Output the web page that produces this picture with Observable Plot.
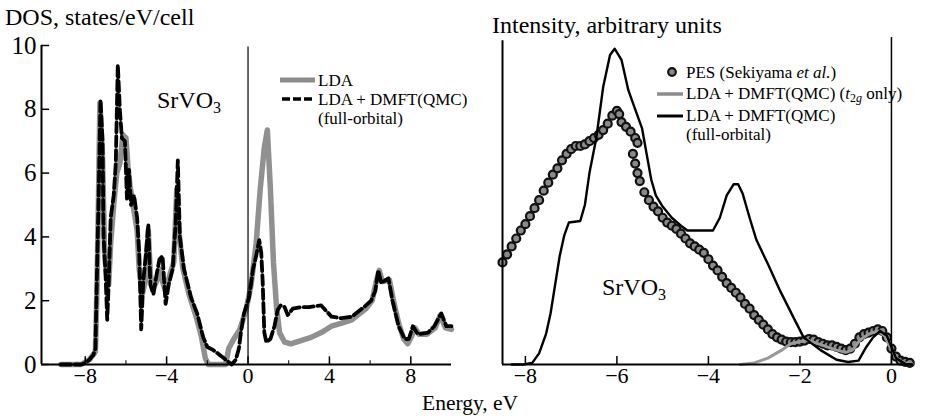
<!DOCTYPE html>
<html><head><meta charset="utf-8">
<script src="https://cdn.jsdelivr.net/npm/d3@7"></script>
<script src="https://cdn.jsdelivr.net/npm/@observablehq/plot@0.6"></script>
<style>
body{margin:0;background:#fff;}
#wrap{position:relative;width:927px;height:417px;overflow:hidden;font-family:'Liberation Serif','Times New Roman',serif;}
#left,#right{position:absolute;top:0;}
#left{left:0;} #right{left:470px;}
#overlay{position:absolute;left:0;top:0;pointer-events:none;font-family:'Liberation Serif','Times New Roman',serif;}
svg text{font-family:'Liberation Serif','Times New Roman',serif;}
</style></head><body>
<div id="wrap"><div id="left"></div><div id="right"></div>
<svg id="overlay" width="927" height="417" fill="#000">
  <text x="5" y="25" font-size="24">DOS, states/eV/cell</text>
  <text x="492" y="33" font-size="24">Intensity, arbitrary units</text>
  <text x="422" y="410" font-size="21.5">Energy, eV</text>
  <text x="157" y="108" font-size="24">SrVO<tspan dy="5" font-size="16">3</tspan></text>
  <text x="602" y="295" font-size="24">SrVO<tspan dy="5" font-size="16">3</tspan></text>
  <!-- left legend -->
  <line x1="280" x2="315" y1="80" y2="80" stroke="#8c8c8c" stroke-width="5"/>
  <text x="318" y="86" font-size="17">LDA</text>
  <line x1="282" x2="315" y1="99" y2="99" stroke="#000" stroke-width="3.5" stroke-dasharray="8,3"/>
  <text x="318" y="105" font-size="17">LDA + DMFT(QMC)</text>
  <text x="318" y="124" font-size="17">(full-orbital)</text>
  <!-- right legend -->
  <circle cx="672" cy="72" r="3.8" fill="#888" stroke="#111" stroke-width="2.2"/>
  <text x="686" y="78" font-size="17">PES (Sekiyama <tspan font-style="italic">et al.</tspan>)</text>
  <line x1="657" x2="683" y1="94" y2="94" stroke="#8c8c8c" stroke-width="3.5"/>
  <text x="686" y="99" font-size="17">LDA + DMFT(QMC) (<tspan font-style="italic">t</tspan><tspan dy="3" font-size="12">2<tspan font-style="italic">g</tspan></tspan><tspan dy="-3"> only)</tspan></text>
  <line x1="657" x2="683" y1="116" y2="116" stroke="#000" stroke-width="3"/>
  <text x="686" y="121" font-size="17">LDA + DMFT(QMC)</text>
  <text x="686" y="140" font-size="17">(full-orbital)</text>
</svg>
</div>
<script>
// ---------- Left panel: DOS ----------
const ldaEnergy = [-9.2,-8.2,-7.8,-7.5,-7.42,-7.35,-7.28,-7.15,-7.05,-6.95,-6.85,-6.75,-6.6,-6.45,-6.3,-6.15,-6.0,-5.9,-5.8,-5.6,-5.45,-5.35,-5.2,-5.05,-4.9,-4.8,-4.65,-4.5,-4.35,-4.2,-4.05,-3.85,-3.65,-3.5,-3.4,-3.2,-2.9,-2.55,-2.3,-2.1,-1.95,-1.1,-0.95,-0.7,-0.4,-0.1,0.15,0.4,0.6,0.8,0.95,1.1,1.25,1.4,1.55,1.8,2.1,2.6,3.1,3.6,4.1,4.6,5.1,5.5,5.8,6.1,6.3,6.45,6.6,6.95,7.15,7.4,7.65,7.85,8.05,8.2,8.4,8.8,9.2,9.45,9.7,10.0];
const ldaDos    = [0,0,0.15,0.4,2.5,5.2,8.2,6.5,3.5,2.8,2.5,3.8,5.0,6.0,6.3,7.2,7.1,6.2,5.6,4.8,4.2,3.0,2.2,2.6,4.2,2.8,2.4,2.6,3.0,2.6,2.3,2.8,3.2,5.5,4.2,3.0,2.2,1.5,0.9,0.2,0,0,0.5,0.8,1.1,1.7,2.5,3.8,5.5,6.8,7.35,5.5,3.2,1.8,1.0,0.7,0.65,0.75,0.85,1.0,1.2,1.3,1.4,1.6,1.75,2.0,2.6,2.95,2.6,2.65,2.0,1.3,0.8,0.65,0.9,1.15,0.95,0.95,1.15,1.55,1.15,1.1];

const dmftEnergy = [-9.2,-8.2,-8.0,-7.8,-7.6,-7.5,-7.42,-7.35,-7.25,-7.15,-7.1,-7.0,-6.92,-6.85,-6.75,-6.6,-6.5,-6.4,-6.3,-6.2,-6.05,-5.95,-5.85,-5.75,-5.6,-5.45,-5.35,-5.25,-5.15,-5.0,-4.9,-4.8,-4.65,-4.5,-4.35,-4.2,-4.05,-3.9,-3.7,-3.55,-3.45,-3.35,-3.15,-2.8,-2.5,-2.2,-2.0,-1.7,-1.2,-0.8,-0.6,-0.45,-0.35,-0.2,0.05,0.25,0.4,0.55,0.65,0.72,0.8,0.9,1.1,1.3,1.45,1.6,1.8,1.95,2.2,2.6,3.0,3.6,4.1,4.6,5.1,5.7,6.05,6.25,6.4,6.55,6.9,7.1,7.4,7.7,7.9,8.1,8.35,8.85,9.15,9.5,9.75,10.0];
const dmftDos    = [0,0,0.05,0.15,0.3,0.5,3.0,5.0,8.3,7.0,4.0,2.8,1.4,2.5,4.6,5.3,6.3,9.4,8.0,7.1,7.0,5.2,6.1,5.0,5.3,4.6,3.5,1.1,2.6,3.6,4.4,2.5,2.2,2.8,3.3,3.4,1.9,2.5,3.0,4.5,6.4,4.0,3.0,2.1,1.6,0.85,0.55,0.45,0.2,0,0.15,0.5,1.0,1.6,2.1,3.0,3.4,3.9,3.5,2.6,1.0,0.7,0.8,1.2,1.7,1.85,1.8,1.55,1.75,1.8,1.8,1.85,1.5,1.45,1.5,1.8,2.0,2.3,2.95,2.55,2.7,2.0,1.2,0.8,0.8,1.2,0.95,1.0,1.2,1.6,1.2,1.2];

const leftXTicks = [-8,-4,0,4,8];
const leftXMinor = [-6,-2,2,6];
const leftYTicks = [0,2,4,6,8,10];

// ---------- Right panel: spectra ----------
const pesEnergy = [-8.5,-8.4,-8.3,-8.2,-8.1,-8.0,-7.9,-7.8,-7.7,-7.6,-7.5,-7.4,-7.3,-7.2,-7.1,-7.0,-6.9,-6.8,-6.7,-6.6,-6.5,-6.4,-6.3,-6.2,-6.1,-6.0,-5.95,-5.9,-5.8,-5.7,-5.6,-5.55,
  -5.65,-5.6,-5.55,-5.5,-5.4,-5.3,-5.2,-5.1,-5.0,-4.9,-4.8,-4.7,-4.6,-4.5,-4.4,-4.3,-4.2,-4.1,-4.0,-3.9,-3.8,-3.7,-3.6,-3.5,-3.4,-3.3,-3.2,-3.1,-3.0,-2.9,-2.8,-2.7,-2.6,-2.5,-2.4,-2.3,-2.2,-2.1,-2.0,-1.9,-1.8,-1.7,-1.6,-1.5,-1.4,-1.3,-1.2,-1.1,-1.0,-0.9,-0.8,-0.7,-0.6,-0.5,-0.4,-0.3,-0.2,-0.1,0.0,0.1,0.2,0.3,0.4];
const pesIntensity = [3.2,3.45,3.7,3.95,4.2,4.4,4.65,4.9,5.15,5.45,5.7,5.95,6.15,6.4,6.6,6.75,6.85,6.85,6.9,7.0,7.1,7.2,7.35,7.55,7.8,7.95,7.85,7.6,7.45,7.3,7.1,6.95,
  6.6,6.3,6.0,5.75,5.4,5.15,4.95,4.8,4.6,4.45,4.35,4.25,4.1,3.95,3.8,3.7,3.6,3.5,3.3,3.1,2.95,2.75,2.55,2.4,2.25,2.1,1.9,1.75,1.55,1.4,1.25,1.1,0.95,0.85,0.78,0.72,0.7,0.7,0.72,0.75,0.8,0.78,0.7,0.65,0.6,0.6,0.55,0.5,0.45,0.5,0.65,0.85,0.95,1.0,1.05,1.1,1.05,0.85,0.5,0.25,0.12,0.08,0.05];

const t2gEnergy = [-3.3,-3.0,-2.7,-2.4,-2.2,-2.0,-1.8,-1.5,-1.2,-1.0,-0.85,-0.7,-0.5,-0.3,-0.15,0.0,0.15,0.3,0.45];
const t2gIntensity = [0,0.05,0.2,0.45,0.65,0.72,0.75,0.6,0.45,0.38,0.45,0.75,0.95,1.05,0.9,0.45,0.15,0.05,0.02];

const fullEnergy = [-8.3,-8.05,-7.85,-7.7,-7.55,-7.45,-7.35,-7.25,-7.15,-7.05,-6.8,-6.7,-6.6,-6.45,-6.3,-6.15,-6.05,-5.9,-5.75,-5.6,-5.45,-5.35,-5.25,-5.15,-5.0,-4.8,-4.6,-4.46,-3.9,-3.75,-3.6,-3.45,-3.35,-3.25,-3.1,-2.95,-2.7,-2.43,-2.15,-1.92,-1.55,-1.2,-0.95,-0.72,-0.55,-0.4,-0.25,-0.1,0.1,0.3,0.45];
const fullIntensity = [0,0,0.05,0.35,0.95,1.6,2.5,3.4,4.05,4.45,4.5,5.0,6.0,7.1,8.7,9.7,9.9,9.55,8.6,8.0,7.4,6.6,5.8,5.3,4.95,4.6,4.35,4.2,4.2,4.6,5.3,5.65,5.65,5.35,4.6,3.9,3.15,2.3,1.5,0.85,0.45,0.15,0.08,0.12,0.55,0.85,1.05,0.9,0.2,0.02,0];

const rightXTicks = [-8,-6,-4,-2,0];

const zip = (xs, ys) => xs.map((e, i) => ({e, v: ys[i]}));
const lda = zip(ldaEnergy, ldaDos);
const dmft = zip(dmftEnergy, dmftDos);
const pes = zip(pesEnergy, pesIntensity);
const t2g = zip(t2gEnergy, t2gIntensity);
const full = zip(fullEnergy, fullIntensity);

const FF = "'Liberation Serif', 'Times New Roman', serif";
const font = {fontFamily: FF, fontSize: "24px", background: "transparent", color: "#000", overflow: "visible"};

const xl = [-10.15, 10];
const leftPlot = Plot.plot({
  width: 470, height: 417,
  marginLeft: 41, marginRight: 19, marginTop: 45, marginBottom: 53,
  x: {domain: xl, axis: null},
  y: {domain: [0, 10], axis: null},
  style: font,
  marks: [
    Plot.line(lda, {x: "e", y: "v", stroke: "#909090", strokeWidth: 5.5}),
    Plot.line(dmft, {x: "e", y: "v", stroke: "#000", strokeWidth: 3.8, strokeDasharray: "10,4"}),
    Plot.ruleX([0], {y1: 0, y2: 9.95, stroke: "#000", strokeWidth: 1.2}),
    Plot.ruleX(leftXTicks, {x: d => d, y1: 0, y2: 0.24, stroke: "#000", strokeWidth: 1.5}),
    Plot.ruleX(leftXMinor, {x: d => d, y1: 0, y2: 0.12, stroke: "#000", strokeWidth: 1}),
    Plot.ruleY(leftYTicks, {y: d => d, x1: xl[0], x2: xl[0] + 0.4, stroke: "#000", strokeWidth: 1.5}),
    Plot.ruleX([xl[0]], {y1: 0, y2: 10, stroke: "#000", strokeWidth: 2}),
    Plot.ruleY([0], {x1: xl[0], x2: xl[1], stroke: "#000", strokeWidth: 2}),
    Plot.axisY({ticks: leftYTicks, tickSize: 0, tickPadding: 5, label: null, fontSize: 25, fontFamily: FF}),
    Plot.axisX({ticks: leftXTicks, tickSize: 0, tickPadding: 3, label: null, fontSize: 22, fontFamily: FF})
  ]
});
document.getElementById("left").appendChild(leftPlot);

const xr = [-8.5, 0.46];
const rightPlot = Plot.plot({
  width: 457, height: 417,
  marginLeft: 32, marginRight: 15, marginTop: 45, marginBottom: 53,
  x: {domain: xr, axis: null},
  y: {domain: [0, 10], axis: null},
  style: font,
  marks: [
    Plot.dot(pes, {x: "e", y: "v", r: 4, fill: "#8a8a8a", stroke: "#111", strokeWidth: 2.2}),
    Plot.line(t2g, {x: "e", y: "v", stroke: "#999", strokeWidth: 3}),
    Plot.line(full, {x: "e", y: "v", stroke: "#000", strokeWidth: 2.4}),
    Plot.ruleX(rightXTicks, {x: d => d, y1: 0, y2: 0.25, stroke: "#000", strokeWidth: 1.5}),
    Plot.ruleX([xr[0]], {y1: 0, y2: 10.15, stroke: "#000", strokeWidth: 2}),
    Plot.ruleX([0], {y1: 0, y2: 10.25, stroke: "#000", strokeWidth: 1.5}),
    Plot.ruleY([0], {x1: xr[0], x2: xr[1], stroke: "#000", strokeWidth: 2}),
    Plot.axisX({ticks: rightXTicks, tickSize: 0, tickPadding: 3, label: null, fontSize: 22, fontFamily: FF})
  ]
});
document.getElementById("right").appendChild(rightPlot);
</script>
</body></html>
